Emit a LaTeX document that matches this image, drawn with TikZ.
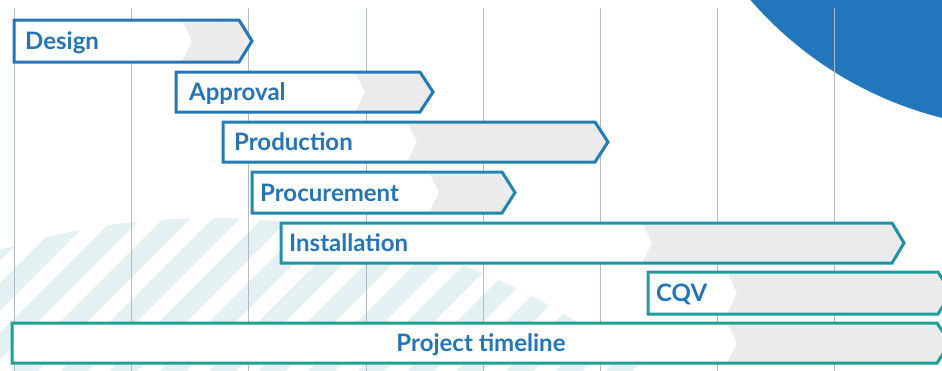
\documentclass[tikz,border=0pt]{standalone}
\usepackage{fontspec}
\setmainfont{Lato}
\usetikzlibrary{calc}
\definecolor{circBlue}{HTML}{2176BC}
\definecolor{txtBlue}{HTML}{2474BA}
\definecolor{gridGrey}{HTML}{B3BAC1}
\definecolor{barGrey}{HTML}{EBEBEB}
\definecolor{stripeCol}{HTML}{E4F1F3}
\definecolor{cDesign}{HTML}{2376B9}
\definecolor{cApproval}{HTML}{2378B8}
\definecolor{cProduction}{HTML}{227DB4}
\definecolor{cProcure}{HTML}{2087AE}
\definecolor{cInstall}{HTML}{1F91A9}
\definecolor{cCQV}{HTML}{1E9DA0}
\definecolor{cProject}{HTML}{1AA395}
\tikzset{
  gridline/.style={gridGrey, line width=1pt},
  barlabel/.style={anchor=base west, inner sep=0pt, text=txtBlue, font=\fontsize{24}{27}\selectfont\bfseries},
}
% #1 L, #2 T, #3 B, #4 shoulder, #5 tip, #6 grey start, #7 colour
\newcommand\ganttbar[7]{%
  \pgfmathsetmacro\gbmid{(#2+#3)/2}%
  \pgfmathsetmacro\gbnotch{#6+10}%
  \fill[white] (#1,#2) -- (#4,#2) -- (#5,\gbmid) -- (#4,#3) -- (#1,#3) -- cycle;
  \fill[barGrey] (#6,#2) -- (#4,#2) -- (#5,\gbmid) -- (#4,#3) -- (#6,#3) -- (\gbnotch,\gbmid) -- cycle;
  \draw[#7, line width=3pt, line join=miter] (#1,#2) -- (#4,#2) -- (#5,\gbmid) -- (#4,#3) -- (#1,#3) -- cycle;
}
\begin{document}
\begin{tikzpicture}[x=1pt,y=-1pt]
\useasboundingbox (0,0) rectangle (942,370);
\clip (0,0) rectangle (942,370);
\fill[white] (0,0) rectangle (942,370);
% stripes
\begin{scope}
  \clip (210,918) circle (700pt);
  \foreach \i in {-12,...,26}{
    \pgfmathsetmacro\a{283+49.5*\i}
    \fill[stripeCol] ({\a-180},180) -- ({\a+27-180},180) -- ({\a+27-390},390) -- ({\a-390},390) -- cycle;
  }
\end{scope}
% blue circle
\fill[circBlue] (1033,-245) circle (374pt);
% grid
\foreach \x in {14,131,248,366,483,600,717,834}{
  \draw[gridline] (\x,8) -- (\x,372);
}
% bars
\ganttbar{14}{20}{62}{239}{252}{182}{cDesign}
\ganttbar{176}{72}{112}{420}{433}{355}{cApproval}
\ganttbar{223}{122}{162}{595}{608}{407}{cProduction}
\ganttbar{252}{172}{213}{502}{515}{429}{cProcure}
\ganttbar{281}{223}{263}{892}{904}{642}{cInstall}
\ganttbar{648}{272}{314}{938}{951}{727}{cCQV}
\ganttbar{12}{323}{363}{937}{950}{727}{cProject}
% labels
\node[barlabel] (design) at (25,49.6) {Design};
\node[barlabel] (approval) at (189,100.6) {Approval};
\node[barlabel] (production) at (234,150.6) {Production};
\node[barlabel] (procurement) at (260,201.1) {Procurement};
\node[barlabel] (installation) at (289,251.6) {Installation};
\node[barlabel] (cqv) at (656,301.6) {CQV};
\node[barlabel, anchor=base] (project) at (481,351.6) {Project timeline};
\end{tikzpicture}
\end{document}
